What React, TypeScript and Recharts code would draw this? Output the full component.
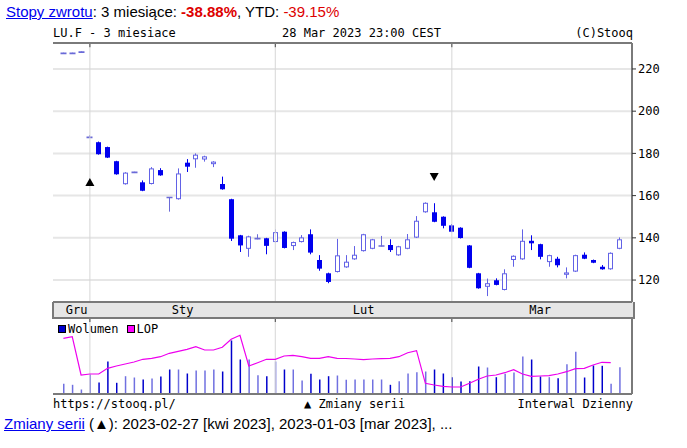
import React from "react";
import { ComposedChart, Bar, Line, XAxis, YAxis, CartesianGrid, ReferenceLine, ReferenceDot, Cell } from "recharts";

// trading days shown on the chart
const dates = [
  "2022-12-28", "2022-12-29", "2022-12-30",
  "2023-01-03", "2023-01-04", "2023-01-05", "2023-01-06", "2023-01-09", "2023-01-10", "2023-01-11",
  "2023-01-12", "2023-01-13", "2023-01-16", "2023-01-17", "2023-01-18", "2023-01-19", "2023-01-20",
  "2023-01-23", "2023-01-24", "2023-01-25", "2023-01-26", "2023-01-27", "2023-01-30", "2023-01-31",
  "2023-02-01", "2023-02-02", "2023-02-03", "2023-02-06", "2023-02-07", "2023-02-08", "2023-02-09",
  "2023-02-10", "2023-02-13", "2023-02-14", "2023-02-15", "2023-02-16", "2023-02-17", "2023-02-20",
  "2023-02-21", "2023-02-22", "2023-02-23", "2023-02-24", "2023-02-27", "2023-02-28",
  "2023-03-01", "2023-03-02", "2023-03-03", "2023-03-06", "2023-03-07", "2023-03-08", "2023-03-09",
  "2023-03-10", "2023-03-13", "2023-03-14", "2023-03-15", "2023-03-16", "2023-03-17", "2023-03-20",
  "2023-03-21", "2023-03-22", "2023-03-23", "2023-03-24", "2023-03-27", "2023-03-28",
];

const opens = [
  227.4, 227.4, 228.0,
  187.6, 185.3, 183.0, 176.3, 165.4, 171.0, 166.3, 165.5, 172.1, 159.1, 158.3, 175.6, 177.2, 177.1,
  174.9, 165.5, 158.3, 141.2, 134.8, 139.6, 139.8,
  138.0, 142.9, 136.1, 138.0, 141.7, 129.5, 123.2, 123.8, 126.0, 129.8, 133.7, 134.8, 136.1, 136.6,
  131.7, 134.8, 140.1, 152.1, 152.1, 150.0,
  145.9, 144.8, 136.4, 123.2, 116.8, 119.9, 115.3, 129.5, 129.8, 138.6, 137.0, 128.5, 130.1, 122.5,
  124.0, 132.0, 129.5, 126.3, 125.1, 134.8,
];
const highs = [
  227.7, 227.7, 228.3,
  188.6, 185.6, 183.2, 176.5, 171.1, 171.3, 167.2, 173.5, 173.0, 159.3, 172.9, 177.3, 180.0, 178.9,
  176.3, 169.0, 158.5, 141.4, 141.0, 141.7, 140.0,
  144.0, 143.1, 138.2, 141.3, 144.0, 131.8, 123.5, 139.5, 131.8, 136.1, 141.9, 139.5, 140.9, 139.3,
  136.2, 141.8, 150.3, 156.8, 156.4, 150.2,
  146.5, 145.0, 136.6, 123.4, 120.7, 120.8, 125.1, 131.7, 144.0, 141.2, 137.2, 132.0, 131.0, 126.0,
  132.0, 133.1, 129.7, 127.1, 133.1, 140.2,
];
const lows = [
  227.2, 227.2, 227.8,
  187.3, 179.4, 177.8, 169.9, 165.2, 170.7, 162.1, 165.3, 169.4, 152.4, 158.1, 171.2, 173.2, 176.1,
  173.5, 162.8, 138.5, 133.3, 131.0, 139.3, 132.2,
  137.8, 135.0, 134.2, 137.8, 132.2, 124.4, 118.5, 123.6, 125.8, 129.6, 133.5, 134.6, 135.9, 133.3,
  131.5, 134.6, 139.9, 151.9, 147.4, 144.5,
  142.7, 139.7, 125.6, 115.9, 112.4, 117.5, 115.1, 126.3, 129.6, 134.2, 129.8, 126.3, 126.0, 120.8,
  123.8, 129.9, 128.0, 124.9, 124.9, 134.6,
];
const closes = [
  227.4, 227.4, 228.0,
  187.6, 179.6, 178.0, 170.1, 170.9, 171.0, 162.3, 172.9, 169.6, 159.0, 170.5, 173.7, 179.4, 178.6,
  176.1, 163.0, 139.6, 136.4, 140.7, 139.6, 136.2,
  142.7, 135.2, 138.0, 140.2, 133.0, 125.4, 119.1, 131.7, 128.7, 132.0, 141.7, 139.3, 136.1, 134.2,
  136.0, 139.3, 148.1, 156.6, 147.6, 145.7,
  142.9, 139.9, 125.8, 116.1, 118.5, 117.7, 123.2, 131.5, 138.6, 137.4, 131.0, 131.8, 127.0, 123.6,
  131.8, 130.1, 128.2, 125.1, 132.9, 139.3,
];

// volume and open interest (LOP), relative units
const volumes = [
  10.2, 9.2, 4.5,
  19.5, 11.5, 32.5, 11.2, 17.8, 16.5, 14.5, 15.5, 17.5, 24.5, 24.5, 20.5, 23.5, 23.5,
  24.5, 22.5, 53.5, 34.5, 34.5, 18.8, 17.8,
  32.5, 24.5, 24.5, 13.5, 20.2, 14.5, 17.8, 18.5, 14.3, 14.5, 14.5, 14.5, 14.5, 9.2,
  12.8, 20.5, 21.8, 22.5, 24.5, 20.5,
  16.8, 12.5, 12.8, 27.5, 26.5, 16.8, 20.2, 21.5, 37.5, 34.5, 17.5, 16.8, 15.8, 29.8,
  42.2, 16.5, 28.5, 28.2, 10.2, 26.8,
];
const lop = [
  55.7, 57.3, 19.0,
  20.0, 20.0, 25.7, 28.0, 30.0, 32.0, 34.7, 35.7, 37.3, 40.7, 42.7, 44.7, 47.3, 44.0,
  44.0, 46.7, 54.7, 58.7, 28.0, 31.3, 34.7,
  34.7, 38.0, 38.7, 37.3, 35.7, 35.7, 37.3, 35.7, 35.5, 35.0, 34.3, 35.0, 35.3, 35.7,
  37.3, 41.3, 43.3, 10.7, 9.0, 7.7,
  7.0, 7.0, 10.7, 14.7, 18.0, 19.0, 21.3, 24.3, 20.0, 17.7, 18.0, 18.3, 20.0, 22.3,
  25.3, 25.7, 29.0, 31.7, 31.3, null,
];

// contract roll markers
const rollUpDate = "2023-01-03";
const rollUpLevel = 166.4;
const rollDownDate = "2023-02-27";
const rollDownLevel = 168.8;

const priceTicks = [120, 140, 160, 180, 200, 220];
const priceDomain = [109.6, 232.3];
const monthNames = ["Gru", "Sty", "Lut", "Mar"];
const monthFirstIdx = [0, 3, 24, 44];
const monthCounts = [3, 21, 20, 20];
const monthGridDates = ["2023-01-03", "2023-02-01", "2023-03-01"];

const data = dates.map((d, i) => ({
  date: d,
  range: [lows[i], highs[i]],
  open: opens[i],
  high: highs[i],
  low: lows[i],
  close: closes[i],
  volume: volumes[i],
  lop: lop[i],
}));

const BAND = 8.83;
const monthTicks = monthNames.map((label, k) => {
  const pos = monthFirstIdx[k] + monthCounts[k] / 2;
  const idx = Math.floor(pos);
  return { label, date: dates[idx], shift: (pos - idx) * BAND };
});

const UP = "#6262e6";
const DOWN = "#0000ee";
const FRAME = "#7a7a7a";
const MONO = "'DejaVu Sans Mono', monospace";
const SANS = "Arial, 'Liberation Sans', sans-serif";

const Candle = (props: any) => {
  const { x, y, width, height, payload } = props;
  if (!payload) return null;
  const { open, close, high, low } = payload;
  const top = Math.min(y, y + height);
  const h = Math.abs(height);
  const toY = (v: number) => top + ((high - v) / (high - low)) * h;
  const bx = Math.round(x);
  const cx = bx + Math.round(width / 2) - 0.5;
  const up = close >= open;
  const bTop = toY(Math.max(open, close));
  const bBot = toY(Math.min(open, close));
  const doji = Math.abs(open - close) < 0.3;
  const color = doji ? "#6a6ad8" : up ? UP : DOWN;
  return (
    <g>
      <line x1={cx} x2={cx} y1={top} y2={top + h} stroke={color} strokeWidth={1} />
      {doji ? (
        <line x1={bx - 0.5} x2={bx + width + 0.5} y1={bTop} y2={bTop} stroke={color} strokeWidth={1.6} />
      ) : up ? (
        <rect x={bx + 0.5} y={bTop + 0.5} width={width - 1} height={Math.max(bBot - bTop - 1, 1)} fill="#fff" stroke={color} strokeWidth={1} />
      ) : (
        <rect x={bx} y={bTop} width={width} height={Math.max(bBot - bTop, 1.5)} fill={color} />
      )}
    </g>
  );
};

const MonthTick = (props: any) => {
  const { x, y, payload } = props;
  const m = monthTicks.find((t) => t.date === payload.value);
  if (!m) return null;
  return (
    <text x={x + m.shift} y={y + 12} textAnchor="middle" fontFamily={MONO} fontSize={12} fill="#000">
      {m.label}
    </text>
  );
};

const TriUp = (p: any) => (
  <polygon points={`${p.cx - 4.5},${p.cy + 4} ${p.cx + 4.5},${p.cy + 4} ${p.cx},${p.cy - 4}`} fill="#000" />
);
const TriDown = (p: any) => (
  <polygon points={`${p.cx - 4.5},${p.cy - 4} ${p.cx + 4.5},${p.cy - 4} ${p.cx},${p.cy + 4}`} fill="#000" />
);

export default function App() {
  return (
    <div style={{ position: "absolute", left: 0, top: 0, width: 687, height: 448, background: "#fff", overflow: "hidden" }}>
      <div style={{ position: "absolute", left: 6, top: 3, fontFamily: SANS, fontSize: 15, lineHeight: "18px", whiteSpace: "nowrap" }}>
        <span style={{ color: "#0000ee", textDecoration: "underline" }}>Stopy zwrotu</span>
        <span>: 3 miesiące: </span>
        <span style={{ color: "#dd0000", fontWeight: "bold" }}>-38.88%</span>
        <span>, YTD: </span>
        <span style={{ color: "#dd0000" }}>-39.15%</span>
      </div>

      <div style={{ position: "absolute", left: 53, top: 26, width: 580, fontFamily: MONO, fontSize: 12, lineHeight: "14px", whiteSpace: "pre" }}>
        <span style={{ position: "absolute", left: 0 }}>LU.F - 3 miesiace</span>
        <span style={{ position: "absolute", left: 229 }}>28 Mar 2023 23:00 CEST</span>
        <span style={{ position: "absolute", right: 0 }}>(C)Stooq</span>
      </div>

      {/* month band behind the price chart axis */}
      <div style={{ position: "absolute", left: 52, top: 302, width: 579, height: 15, background: "#e6e6e6", borderLeft: `2px solid ${FRAME}`, borderRight: `2px solid ${FRAME}`, borderBottom: `2px solid ${FRAME}` }} />

      <div style={{ position: "absolute", left: 0, top: 0 }}>
        <ComposedChart width={687} height={318} data={data} margin={{ top: 43, right: 0, bottom: 0, left: 53 }}>
          <CartesianGrid vertical={false} stroke="#e6e6e6" strokeWidth={2} />
          {monthGridDates.map((d) => (
            <ReferenceLine key={d} x={d} stroke="#d6d6d6" strokeWidth={1} />
          ))}
          {monthGridDates.map((d) => (
            <ReferenceLine
              key={"t" + d}
              segment={[{ x: d, y: priceDomain[1] }, { x: d, y: priceDomain[1] - 2 }]}
              stroke="#444"
              strokeWidth={1}
            />
          ))}
          <XAxis
            dataKey="date"
            height={16}
            padding={{ left: 6, right: 8 }}
            ticks={monthTicks.map((t) => t.date)}
            interval={0}
            tick={<MonthTick />}
            tickLine={false}
            tickSize={0}
            tickMargin={0}
            axisLine={{ stroke: FRAME, strokeWidth: 2 }}
          />
          <YAxis
            orientation="right"
            width={55}
            domain={priceDomain}
            allowDataOverflow
            ticks={priceTicks}
            interval={0}
            tickSize={4}
            tickMargin={2}
            axisLine={{ stroke: FRAME, strokeWidth: 2 }}
            tickLine={{ stroke: "#333" }}
            tick={{ fontFamily: MONO, fontSize: 12, fill: "#000", textAnchor: "start" }}
          />
          <YAxis
            yAxisId="L"
            orientation="left"
            width={0}
            mirror
            domain={priceDomain}
            ticks={priceTicks}
            tick={false}
            tickSize={4}
            axisLine={{ stroke: FRAME, strokeWidth: 2 }}
            tickLine={{ stroke: "#333" }}
          />
          <ReferenceLine y={priceDomain[1]} stroke={FRAME} strokeWidth={2} ifOverflow="extendDomain" />
          <Bar dataKey="range" barSize={5} shape={<Candle />} isAnimationActive={false} />
          <ReferenceDot x={rollUpDate} y={rollUpLevel} shape={TriUp} />
          <ReferenceDot x={rollDownDate} y={rollDownLevel} shape={TriDown} />
        </ComposedChart>
      </div>

      <div style={{ position: "absolute", left: 0, top: 318 }}>
        <ComposedChart width={687} height={78} data={data} margin={{ top: 1, right: 0, bottom: 0, left: 53 }}>
          {monthGridDates.map((d) => (
            <ReferenceLine key={d} x={d} stroke="#d6d6d6" strokeWidth={1} />
          ))}
          {monthGridDates.map((d) => (
            <ReferenceLine key={"t" + d} segment={[{ x: d, y: 75 }, { x: d, y: 72 }]} stroke="#444" strokeWidth={1} />
          ))}
          <XAxis dataKey="date" height={2} padding={{ left: 6, right: 8 }} tick={false} tickLine={false} axisLine={{ stroke: FRAME, strokeWidth: 2 }} />
          <YAxis hide domain={[0, 75]} />
          <YAxis yAxisId="R" orientation="right" width={55} domain={[0, 1]} tick={false} tickLine={false} axisLine={{ stroke: FRAME, strokeWidth: 2 }} />
          <YAxis yAxisId="L" orientation="left" width={0} domain={[0, 1]} tick={false} tickLine={false} axisLine={{ stroke: FRAME, strokeWidth: 2 }} />
          <Bar dataKey="volume" name="Wolumen" barSize={1.5} fill="#0000cc" isAnimationActive={false}>
            {data.map((d, i) => (
              <Cell key={i} fill={d.close < d.open ? "#0000cc" : "#7070e0"} />
            ))}
          </Bar>
          <Line dataKey="lop" name="LOP" type="linear" stroke="#ee00ee" strokeWidth={1.2} dot={false} isAnimationActive={false} />
        </ComposedChart>
      </div>

      {/* legend of the lower panel */}
      <div style={{ position: "absolute", left: 58, top: 322, fontFamily: MONO, fontSize: 12, color: "#000", display: "flex", alignItems: "center", lineHeight: "14px" }}>
        <span style={{ width: 6, height: 6, background: "#0000cc", border: "1px solid #000", marginRight: 2 }} />
        <span style={{ marginRight: 8 }}>Wolumen</span>
        <span style={{ width: 6, height: 6, background: "#ff00ff", border: "1px solid #000", marginRight: 2 }} />
        <span>LOP</span>
      </div>

      <div style={{ position: "absolute", left: 53, top: 397, width: 580, height: 14, fontFamily: MONO, fontSize: 12, lineHeight: "14px", whiteSpace: "pre" }}>
        <span style={{ position: "absolute", left: 0 }}>https://stooq.pl/</span>
        <span style={{ position: "absolute", left: 251 }}>▲ Zmiany serii</span>
        <span style={{ position: "absolute", right: 0 }}>Interwal Dzienny</span>
      </div>

      <div style={{ position: "absolute", left: 4, top: 415, fontFamily: SANS, fontSize: 15, lineHeight: "18px", whiteSpace: "nowrap" }}>
        <span style={{ color: "#0000ee", textDecoration: "underline" }}>Zmiany serii</span>
        <span> (▲): 2023-02-27 [kwi 2023], 2023-01-03 [mar 2023], ...</span>
      </div>
    </div>
  );
}
